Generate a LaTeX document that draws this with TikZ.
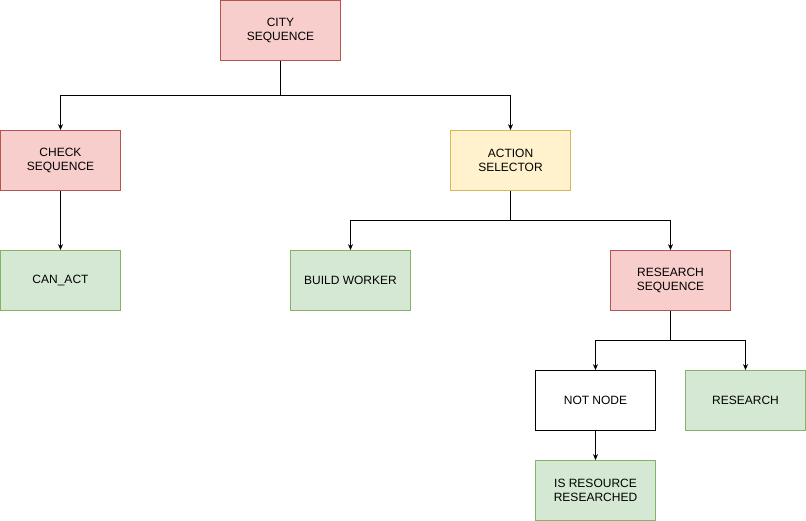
\documentclass[tikz,border=0pt]{standalone}
\usepackage{fontspec}
\setmainfont{Liberation Sans}
\usetikzlibrary{arrows.meta}
\definecolor{redfill}{HTML}{F8CECC}
\definecolor{redline}{HTML}{B85450}
\definecolor{yelfill}{HTML}{FFF2CC}
\definecolor{yelline}{HTML}{D6B656}
\definecolor{grnfill}{HTML}{D5E8D4}
\definecolor{grnline}{HTML}{82B366}
\begin{document}
\begin{tikzpicture}[x=1pt,y=-1pt,
  box/.style={draw,line width=0.8pt,minimum width=120pt,minimum height=60pt,inner sep=0pt,align=center,
    font=\fontsize{12}{14}\selectfont},
  redbox/.style={box,fill=redfill,draw=redline},
  yelbox/.style={box,fill=yelfill,draw=yelline},
  grnbox/.style={box,fill=grnfill,draw=grnline},
  whtbox/.style={box,fill=white,draw=black},
  conn/.style={draw=black,line width=0.8pt,-{Stealth[length=6pt,width=5pt]}}]
\useasboundingbox (0,0) rectangle (806,521);
\node[redbox] (city) at (280.5,30.5) {CITY\\SEQUENCE};
\node[redbox] (check) at (60.5,160.5) {CHECK\\SEQUENCE};
\node[yelbox] (action) at (510.5,160.5) {ACTION\\SELECTOR};
\node[grnbox] (canact) at (60.5,280.5) {CAN\_ACT};
\node[grnbox] (build) at (350.5,280.5) {BUILD WORKER};
\node[redbox] (rseq) at (670.5,280.5) {RESEARCH\\SEQUENCE};
\node[whtbox] (notnode) at (595.5,400.5) {NOT NODE};
\node[grnbox] (research) at (745.5,400.5) {RESEARCH};
\node[grnbox] (isres) at (595.5,490.5) {IS RESOURCE\\RESEARCHED};
\coordinate (e1) at (280.5,95.5);
\coordinate (e2) at (510.5,220.5);
\coordinate (e3) at (670.5,340.5);
\draw[conn] (city.south) |- (e1) -| (check.north);
\draw[conn] (city.south) |- (e1) -| (action.north);
\draw[conn] (check.south) -- (canact.north);
\draw[conn] (action.south) |- (e2) -| (build.north);
\draw[conn] (action.south) |- (e2) -| (rseq.north);
\draw[conn] (rseq.south) |- (e3) -| (notnode.north);
\draw[conn] (rseq.south) |- (e3) -| (research.north);
\draw[conn] (notnode.south) -- (isres.north);
\end{tikzpicture}
\end{document}
